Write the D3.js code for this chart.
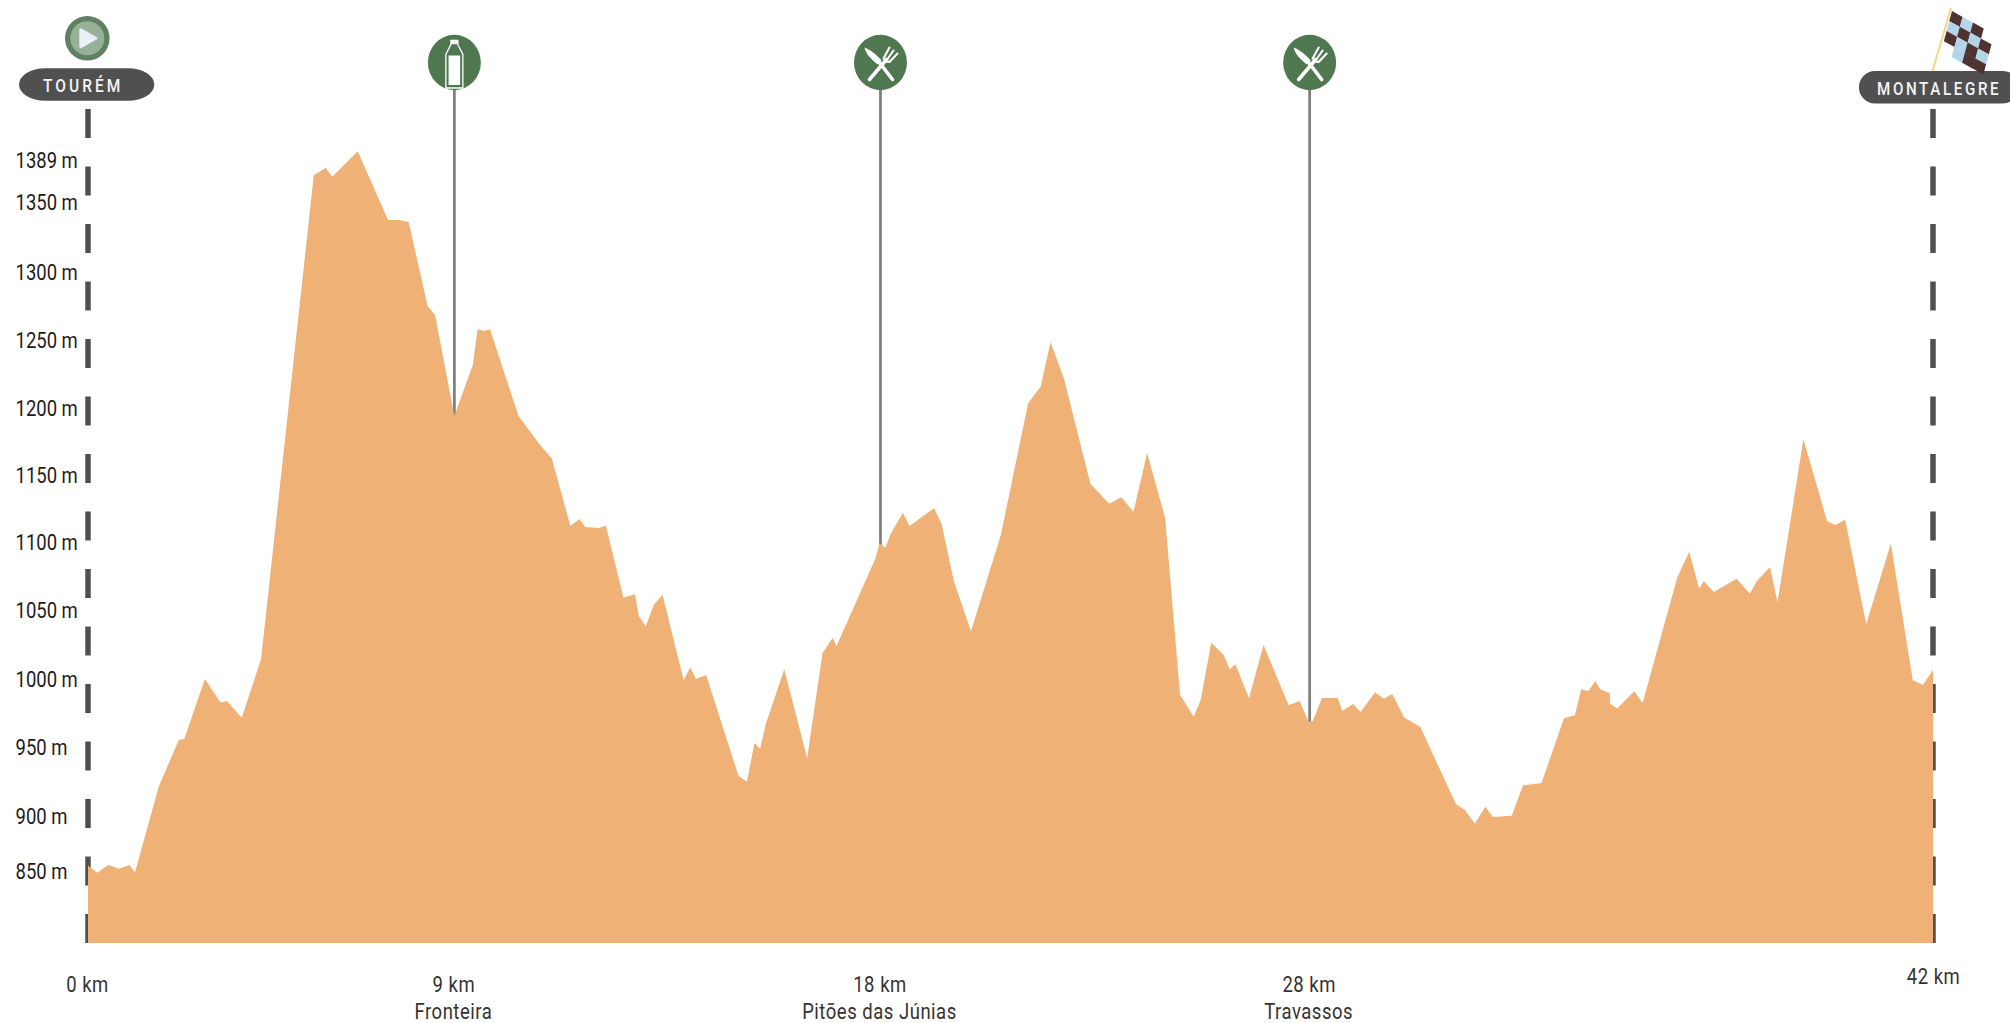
<!DOCTYPE html>
<html><head><meta charset="utf-8">
<script src="https://cdnjs.cloudflare.com/ajax/libs/d3/7.8.5/d3.min.js"></script>
<style>
html,body{margin:0;padding:0;background:#fff;overflow:hidden}
svg{display:block}
text{font-family:"Roboto",sans-serif}
</style></head><body>
<svg id="c" width="2010" height="1023"></svg>
<script>
// ---- data ----
const kmValues = [0,.21,.46,.71,.94,1.07,1.61,2.07,2.19,2.66,3.02,3.16,3.5,3.94,5.14,5.41,5.56,6.14,6.83,7.09,7.3,7.73,7.9,8.34,8.76,8.87,9.03,9.15,9.8,10.29,10.56,10.98,11.19,11.32,11.63,11.79,12.19,12.45,12.54,12.7,12.88,13.08,13.56,13.71,13.84,14.07,14.81,15,15.17,15.3,15.43,15.85,16.37,16.72,16.95,17.04,17.92,18.02,18.15,18.27,18.55,18.7,19.26,19.43,19.71,20.1,20.78,21.4,21.69,21.91,22.22,22.82,23.25,23.52,23.8,24.11,24.52,24.86,25.17,25.33,25.57,25.85,25.99,26.12,26.43,26.76,27.33,27.58,27.78,27.88,28.09,28.45,28.55,28.8,28.97,29.3,29.5,29.69,29.96,30.33,31.14,31.35,31.57,31.81,31.98,32.41,32.67,33.09,33.6,33.85,33.99,34.16,34.31,34.42,34.64,34.65,34.81,35.2,35.39,36.18,36.45,36.68,36.78,37.01,37.53,37.83,37.99,38.29,38.46,39.05,39.59,39.78,40,40.48,41.04,41.54,41.77,42];
const elevation = [865.5,860.1,865.8,863.1,865.8,860.4,923.2,957.6,957.9,1002.1,985,986,973.8,1016.8,1371.4,1377,1370.4,1389,1338.6,1338.6,1337.2,1275.6,1269,1194.9,1232.3,1258.5,1257.2,1258.5,1194.9,1173.7,1163.8,1114.3,1119.4,1113.6,1112.8,1114.5,1061.7,1064.2,1048.1,1040.8,1056.6,1063.9,1001.2,1010.7,1002.1,1005.1,931,926.8,955.2,951,969.1,1009.2,944,1021,1032.2,1026.3,1090.1,1101.6,1098.4,1108.4,1124,1114.3,1127.3,1116,1074,1037.1,1107.7,1204.2,1216.7,1249.2,1222.1,1145.1,1130.6,1135.3,1124.8,1167.8,1120.2,990.6,974.5,986.7,1028.7,1019.7,1009.2,1012.9,988,1027.1,982.9,986,971.1,971.1,988.2,988.2,978.7,983.8,977.9,992.4,987.7,991.1,974,966.9,910.5,905.9,896,908.5,900.9,901.9,924.2,925.9,973.3,975.5,994.6,993.3,1000.7,994.6,991.9,984,980.6,993.1,984.5,1076.7,1095.5,1068.1,1074,1065.9,1075.7,1064.7,1074,1084.2,1058.4,1177.9,1117.7,1115,1118.9,1042.4,1101.3,1001.2,997.7,1008.7];
const yTicks = [850,900,950,1000,1050,1100,1150,1200,1250,1300,1350,1389];
const xTicks = [0,8.34,18.04,27.81,42];
const xTickLabels = ["0 km","9 km","18 km","28 km","42 km"];
const placeNames = ["","Fronteira","Pitões das Júnias","Travassos",""];
const stopKm = [8.34,18.04,27.81];
const stopKinds = ["water","food","food"];
const startName = "TOURÉM";
const finishName = "MONTALEGRE";
const flagPattern = ["dld ","ldld","dldl"," ldd"];

// ---- scales ----
const x = d3.scaleLinear().domain([0,42]).range([88,1933]);
const y = d3.scaleLinear().domain([808.6,1389]).range([943,151.3]);
const profile = kmValues.map((k,i)=>({k,e:elevation[i]}));

const svg = d3.select("#c");
const GREEN="#4f7850", DARK="#505050", SAND="#efb175";

// dashed end posts
[0,42].forEach(k=>{
  svg.append("line").attr("x1",x(k)).attr("x2",x(k)).attr("y1",109).attr("y2",943)
    .attr("stroke",DARK).attr("stroke-width",5.5).attr("stroke-dasharray","29 28.5");
});
// stop poles
svg.append("g").selectAll("line").data(stopKm).join("line")
  .attr("x1",d=>x(d)).attr("x2",d=>x(d)).attr("y1",70).attr("y2",730)
  .attr("stroke","#808080").attr("stroke-width",2.8);

// profile
const area = d3.area().x(d=>x(d.k)).y0(y(808.6)).y1(d=>y(d.e)).curve(d3.curveLinear);
svg.append("path").datum(profile).attr("d",area).attr("fill",SAND);

// y axis labels (left aligned in a column)
const yNudge = {850:-15,1389:9.4,1300:-0.5,1250:-0.5,1200:-1,1150:-1.5,1100:-3,1050:-3,950:-3};
const yAxis = d3.axisLeft(y).tickValues(yTicks).tickFormat(d=>d+" m").tickSize(0).tickPadding(0);
const yG = svg.append("g").attr("transform","translate(15.5,0)").call(yAxis);
yG.select(".domain").remove();
yG.selectAll("text").attr("font-size",22).attr("fill","#1c1c1c").attr("font-family",null)
  .attr("text-anchor","start")
  .attr("transform",d=>`translate(0,${(yNudge[d]===undefined?-2:yNudge[d])}) scale(.84,1)`);

// x axis labels
const xAxis = d3.axisBottom(x).tickValues(xTicks).tickFormat((d,i)=>xTickLabels[i]).tickSize(0).tickPadding(0);
const xG = svg.append("g").attr("transform","translate(0,977)").call(xAxis);
xG.select(".domain").remove();
xG.selectAll("text").attr("font-size",21.5).attr("fill","#333").attr("font-family",null)
  .attr("letter-spacing",0.6)
  .attr("transform",d=>(d===42?"translate(0,-8)":"translate(-1,0)")+" scale(.86,1)");
svg.append("g").selectAll("text").data(xTicks).join("text")
  .attr("y",1019).attr("text-anchor","middle")
  .attr("font-size",21.5).attr("letter-spacing",0.6).attr("fill","#333")
  .attr("transform",d=>`translate(${x(d)-1},0) scale(.86,1)`)
  .text((d,i)=>placeNames[i]);

// stop badges
const badge = svg.append("g").selectAll("g").data(stopKm).join("g")
  .attr("transform",d=>`translate(${x(d)},62.5)`);
badge.append("ellipse").attr("rx",26.5).attr("ry",27.7).attr("fill",GREEN);
badge.each(function(d,i){
  const g=d3.select(this);
  if(stopKinds[i]==="water"){
    g.append("path").attr("d","M-3.5,-22 V-18 L-8.5,-8 V25.5 H8.5 V-8 L3.5,-18 V-22 Z")
      .attr("fill","none").attr("stroke","#fff").attr("stroke-width",1.3);
    g.append("rect").attr("x",-3.4).attr("y",-22.5).attr("width",6.8).attr("height",4.2).attr("fill","#fff");
    g.append("rect").attr("x",-5.8).attr("y",-7).attr("width",11.6).attr("height",29.5).attr("fill","#fff");
  } else {
    // knife
    g.append("path").attr("d","M-16,-15 C-10,-13 -3,-7 1,-2 L-3,2 C-9,-3 -15,-9 -16,-15 Z").attr("fill","#fff");
    g.append("line").attr("x1",-1).attr("y1",0).attr("x2",12).attr("y2",17)
      .attr("stroke","#fff").attr("stroke-width",3.6).attr("stroke-linecap","round");
    // fork
    g.append("line").attr("x1",-11).attr("y1",17).attr("x2",6).attr("y2",-3)
      .attr("stroke","#fff").attr("stroke-width",3.6).attr("stroke-linecap","round");
    g.append("path").attr("d","M3,-4 L9,-15 M6,-2 L13,-12 M9,-0.5 L17,-9 M4,-3 C6,0 9,0 10.5,-2")
      .attr("fill","none").attr("stroke","#fff").attr("stroke-width",2.1).attr("stroke-linecap","round");
  }
});

// start badge
const st = svg.append("g").attr("transform",`translate(${x(0)-0.7},38.3)`);
st.append("circle").attr("r",22.3).attr("fill","#5f8061");
st.append("circle").attr("r",17).attr("fill","#96b197");
st.append("path").attr("d","M-6.5,-8.5 L8.5,0 L-6.5,8.5 Z").attr("fill","#e9eff5")
  .attr("stroke","#e9eff5").attr("stroke-width",3).attr("stroke-linejoin","round");

// name pills
svg.append("rect").attr("x",19).attr("y",68.3).attr("width",135.3).attr("height",32.4)
  .attr("rx",26).attr("ry",16.2).attr("fill",DARK);
svg.append("text").attr("transform","translate(43,91.5) scale(.84,1)").attr("fill","#f4f4f4").attr("font-size",18.5)
  .attr("font-weight",500).attr("letter-spacing",3.6).text(startName);
svg.append("rect").attr("x",1859).attr("y",71).attr("width",160).attr("height",32.4)
  .attr("rx",16).attr("ry",16).attr("fill",DARK);
svg.append("text").attr("transform","translate(1877,94.5) scale(.82,1)").attr("fill","#f4f4f4").attr("font-size",18.5)
  .attr("font-weight",500).attr("letter-spacing",3.2).text(finishName);

// finish flag
svg.append("line").attr("x1",1932.5).attr("y1",71).attr("x2",1951).attr("y2",8)
  .attr("stroke","#f6d488").attr("stroke-width",2);
const flag = svg.append("g").attr("transform","matrix(10.5,5.8,-2.7,10,1952,11)");
flagPattern.forEach((row,r)=>row.split("").forEach((c,i)=>{
  if(c===" ") return;
  flag.append("rect").attr("x",i).attr("y",r).attr("width",1.02).attr("height",1.02)
    .attr("fill",c==="d"?"#4e3331":"#b3d5ea");
}));
</script></body></html>
